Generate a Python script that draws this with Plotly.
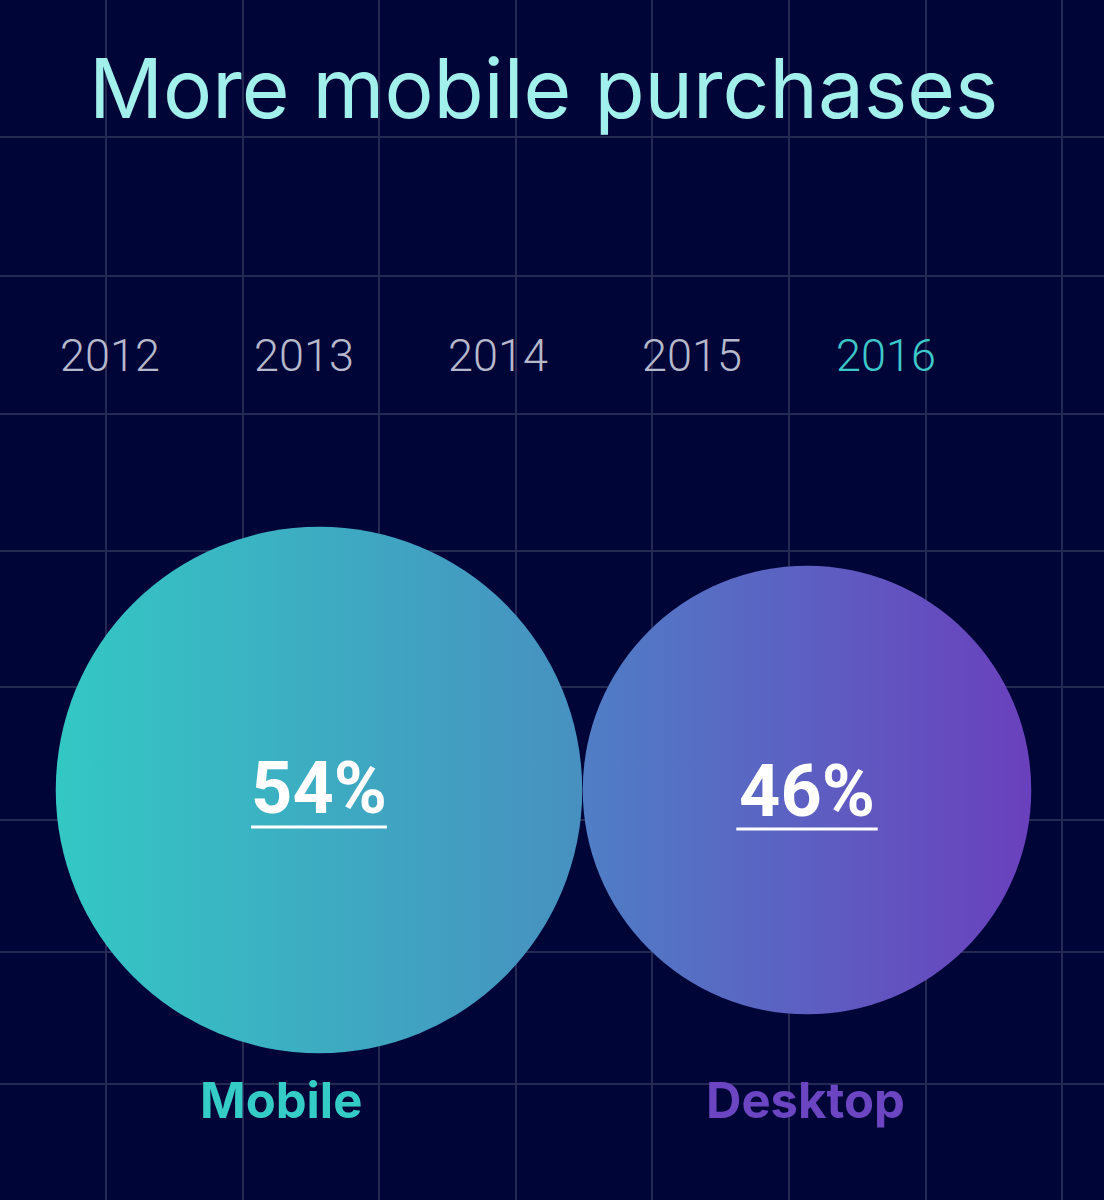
import plotly.graph_objects as go

# ---- data ----
title_text = "More mobile purchases"
years = ["2012", "2013", "2014", "2015", "2016"]
selected_year = "2016"
devices = ["Mobile", "Desktop"]
shares = [54, 46]  # percent of purchases, 2016

# ---- styles ----
BG = "#000537"
GRID = "#252A54"
TITLE_COLOR = "#A2F0EC"
YEAR_COLOR = "#B6B9CC"
YEAR_SEL_COLOR = "#3CC8C9"
LEFT_COLORS = ["#33C8C4", "#4F7EC6"]   # gradient start (left side of each circle)
RIGHT_COLORS = ["#4790C0", "#6A40BD"]  # gradient end (right side)
LABEL_COLORS = ["#35CBC6", "#6B45C2"]
W, H = 1104, 1200
FONT = "Inter"
GRID_ROWS = [1, 137, 276, 414, 551, 687, 820, 952, 1084]  # decorative background grid (px)

fig = go.Figure()

# background grid axes (pixel-like units)
fig.add_trace(go.Scatter(x=[0], y=[0], mode="markers", marker=dict(opacity=0),
                         hoverinfo="skip", showlegend=False, xaxis="x", yaxis="y"))

# year selector row (categorical axis x3)
fig.add_trace(go.Scatter(
    x=years, y=[0] * len(years), mode="text", text=years,
    textposition="middle center",
    textfont=dict(family="Roboto", size=45, weight=300,
                  color=[YEAR_SEL_COLOR if y == selected_year else YEAR_COLOR for y in years]),
    hoverinfo="skip", showlegend=False, xaxis="x3", yaxis="y3", cliponaxis=False))

# bubbles (diameter proportional to share)
for i, (d, v) in enumerate(zip(devices, shares)):
    fig.add_trace(go.Scatter(
        x=[d], y=[0], mode="markers",
        marker=dict(size=[v], sizemode="diameter", sizeref=1 / 9.75, opacity=1,
                    color=LEFT_COLORS[i], line=dict(width=0),
                    gradient=dict(type="horizontal", color=RIGHT_COLORS[i])),
        hoverinfo="skip", showlegend=False, xaxis="x2", yaxis="y2", cliponaxis=False))

# percentage labels
fig.add_trace(go.Scatter(
    x=devices, y=[-5 / H, -8 / H], mode="text", text=[f"<b>{v}%</b>" for v in shares],
    textposition="middle center",
    textfont=dict(family="Roboto", size=72, color="white"),
    hoverinfo="skip", showlegend=False, xaxis="x2", yaxis="y2", cliponaxis=False))

# underline below the percentages
fig.add_trace(go.Scatter(
    x=devices, y=[-37 / H, -39 / H], mode="markers",
    marker=dict(symbol="line-ew", size=[97, 101], opacity=1,
                line=dict(width=3, color="white")),
    hoverinfo="skip", showlegend=False, xaxis="x2", yaxis="y2", cliponaxis=False))

# device labels under the bubbles
label_shift = [-38, -2]
for i, d in enumerate(devices):
    fig.add_annotation(x=d, y=-310 / H, xref="x2", yref="y2", text=f"<b>{d}</b>",
                       showarrow=False, xshift=label_shift[i],
                       font=dict(family=FONT, size=49, color=LABEL_COLORS[i]))

# title
fig.add_annotation(x=543 / W, y=1 - 88 / H, xref="paper", yref="paper", text=title_text,
                   showarrow=False, xanchor="center", yanchor="middle",
                   font=dict(family=FONT, size=82, color=TITLE_COLOR))

cx0, step = 319, 488     # bubble category placement (px)
yx0, ystep = 110, 194    # year category placement (px)
cy = 790                 # bubble centre row (px)
yr = 360                 # year row (px)

fig.update_layout(
    width=W, height=H, margin=dict(l=0, r=0, t=0, b=0),
    paper_bgcolor=BG, plot_bgcolor=BG,
    xaxis=dict(range=[0, W], tick0=106, dtick=136.6, showgrid=True, gridcolor=GRID,
               gridwidth=2, zeroline=False, showticklabels=False, ticks="", fixedrange=True),
    yaxis=dict(range=[H, 0], tickmode="array", tickvals=GRID_ROWS, showgrid=True,
               gridcolor=GRID, gridwidth=2, zeroline=False, showticklabels=False, ticks="",
               fixedrange=True),
    xaxis2=dict(type="category", overlaying="x", range=[-cx0 / step, (W - cx0) / step],
                visible=False),
    yaxis2=dict(overlaying="y", range=[-(1 - cy / H), cy / H], visible=False),
    xaxis3=dict(type="category", overlaying="x", range=[-yx0 / ystep, (W - yx0) / ystep],
                visible=False),
    yaxis3=dict(overlaying="y", range=[-(1 - yr / H), yr / H], visible=False),
)

fig.write_html("out.html", config={"displayModeBar": False},
               post_script="document.body.style.margin='0';document.body.style.background='" + BG + "';")
